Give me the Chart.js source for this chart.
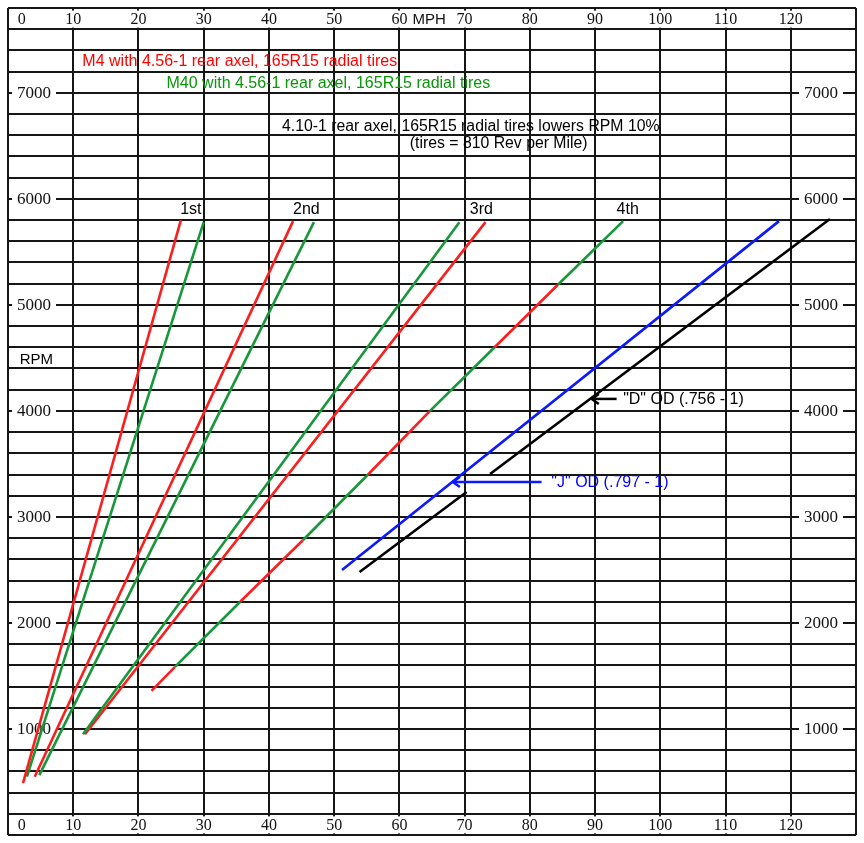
<!DOCTYPE html>
<html>
<head>
<meta charset="utf-8">
<script src="https://cdn.jsdelivr.net/npm/chart.js@4.4.1/dist/chart.umd.min.js"></script>
<style>
  html, body { margin: 0; padding: 0; background: #fff; }
  #wrap { width: 864px; height: 843px; }
</style>
</head>
<body>
<div id="wrap"><canvas id="rpmChart"></canvas></div>
<script>
// RPM vs MPH per gear
const mphTicks = [0, 10, 20, 30, 40, 50, 60, 70, 80, 90, 100, 110, 120];
const rpmTicks = [1000, 2000, 3000, 4000, 5000, 6000, 7000];

const m4FirstMph = [2.3, 26.5];
const m4FirstRpm = [490, 5800];
const m40FirstMph = [2.9, 30.0];
const m40FirstRpm = [550, 5780];
const m4SecondMph = [4.1, 43.7];
const m4SecondRpm = [550, 5790];
const m40SecondMph = [4.8, 46.9];
const m40SecondRpm = [565, 5780];
const m4ThirdMph = [11.8, 73.2];
const m4ThirdRpm = [950, 5780];
const m40ThirdMph = [11.5, 69.2];
const m40ThirdRpm = [950, 5780];
// 4th is the same line for M4 and M40, drawn red / green in turns
const fourthMph = [22.0, 25.6, 35.6, 45.2, 55.2, 64.7, 74.6, 84.3, 94.3];
const fourthRpm = [1360, 1585, 2200, 2780, 3400, 4000, 4600, 5190, 5790];
const jOdMph = [51.2, 118.2];
const jOdRpm = [2500, 5790];
// the D line has a break where the J arrow crosses it
const dOdMph = [53.9, 70.3, 72.0, 73.9, 126.0];
const dOdRpm = [2480, 3235, null, 3405, 5810];

const RED = '#fa1e1e';
const GREEN = '#17963a';
const BLUE = '#0c18ff';
const BLACK = '#000000';
const GRID = '#161616';

// text notes, positions in MPH / RPM
const notes = [
  { text: 'M4 with 4.56-1 rear axel, 165R15 radial tires', x: 11.4, y: 7290, color: '#ff0000', font: '16px "Liberation Sans", Arial, sans-serif' },
  { text: 'M40 with 4.56-1 rear axel, 165R15 radial tires', x: 24.3, y: 7091, color: '#0a960a', font: '16px "Liberation Sans", Arial, sans-serif' },
  { text: '4.10-1 rear axel, 165R15 radial tires lowers RPM 10%', x: 42.0, y: 6682, color: '#000', font: '15.8px "Liberation Sans", Arial, sans-serif' },
  { text: '(tires = 810 Rev per Mile)', x: 61.6, y: 6525, color: '#000', font: '15.8px "Liberation Sans", Arial, sans-serif' },
  { text: '1st', x: 26.4, y: 5896, color: '#000', font: '16px "Liberation Sans", Arial, sans-serif' },
  { text: '2nd', x: 43.7, y: 5896, color: '#000', font: '16px "Liberation Sans", Arial, sans-serif' },
  { text: '3rd', x: 70.8, y: 5896, color: '#000', font: '16px "Liberation Sans", Arial, sans-serif' },
  { text: '4th', x: 93.3, y: 5896, color: '#000', font: '16px "Liberation Sans", Arial, sans-serif' },
  { text: 'RPM', x: 1.8, y: 4481, color: '#000', font: '15px "Liberation Sans", Arial, sans-serif' },
  { text: '"D" OD (.756 - 1)', x: 94.3, y: 4104, color: '#000', font: '16px "Liberation Sans", Arial, sans-serif' },
  { text: '"J" OD (.797 - 1)', x: 83.3, y: 3321, color: '#0000ff', font: '16px "Liberation Sans", Arial, sans-serif' }
];
const arrows = [
  { from: [93.3, 4113], to: [89.5, 4113], color: BLACK },
  { from: [81.8, 3330], to: [68.2, 3330], color: BLUE }
];

const pts = (xs, ys) => xs.map((v, i) => ({ x: v, y: ys[i] }));

function gearLine(label, xs, ys, color) {
  return {
    label: label,
    data: pts(xs, ys),
    borderColor: color,
    borderWidth: 2.6,
    pointRadius: 0,
    fill: false,
    tension: 0
  };
}

const fourth = gearLine('4th', fourthMph, fourthRpm, RED);
fourth.segment = {
  borderColor: c => (c.p0DataIndex % 2 === 0 ? RED : GREEN)
};

// tick numbers sit inside the frame with a white patch over the grid
const tickLabels = {
  id: 'tickLabels',
  beforeDatasetsDraw(chart) {
    const { ctx, chartArea: area, scales: { x, y } } = chart;
    ctx.save();
    ctx.textAlign = 'center';
    ctx.textBaseline = 'middle';
    ctx.font = '16px "Liberation Serif", serif';
    const topMid = (y.getPixelForValue(7800) + y.getPixelForValue(7600)) / 2;
    const botMid = (y.getPixelForValue(0) + y.getPixelForValue(200)) / 2;
    mphTicks.forEach(v => {
      const px = v === 0 ? x.getPixelForValue(2.1) : x.getPixelForValue(v);
      const txt = String(v);
      const w = ctx.measureText(txt).width + 4;
      [topMid, botMid].forEach(py => {
        if (v !== 0) {
          ctx.fillStyle = '#fff';
          ctx.fillRect(px - w / 2, py - 8, w, 17);
        }
        ctx.fillStyle = '#111';
        ctx.fillText(txt, px, py + 1);
      });
    });
    ctx.font = '15px "Liberation Sans", Arial, sans-serif';
    ctx.textAlign = 'left';
    ctx.fillText('MPH', x.getPixelForValue(60) + 13, topMid + 1);

    ctx.font = '17px "Liberation Serif", serif';
    ctx.textAlign = 'center';
    rpmTicks.forEach(v => {
      const py = y.getPixelForValue(v);
      const txt = String(v);
      const w = ctx.measureText(txt).width + 10;
      [area.left + 26, area.right - 35].forEach(px => {
        ctx.fillStyle = '#fff';
        ctx.fillRect(px - w / 2, py - 5, w, 10);
        ctx.fillStyle = '#111';
        ctx.fillText(txt, px, py + 1);
      });
    });
    ctx.restore();
  }
};

const notesPlugin = {
  id: 'notes',
  afterDatasetsDraw(chart) {
    const { ctx, scales: { x, y } } = chart;
    ctx.save();
    ctx.textAlign = 'left';
    ctx.textBaseline = 'middle';
    notes.forEach(n => {
      ctx.font = n.font;
      ctx.fillStyle = n.color;
      ctx.fillText(n.text, x.getPixelForValue(n.x), y.getPixelForValue(n.y));
    });
    arrows.forEach(a => {
      const x0 = x.getPixelForValue(a.from[0]);
      const y0 = y.getPixelForValue(a.from[1]);
      const x1 = x.getPixelForValue(a.to[0]);
      const y1 = y.getPixelForValue(a.to[1]);
      ctx.strokeStyle = a.color;
      ctx.lineWidth = 2.5;
      ctx.beginPath();
      ctx.moveTo(x0, y0);
      ctx.lineTo(x1, y1);
      ctx.stroke();
      ctx.beginPath();
      ctx.moveTo(x1 + 7, y1 - 5);
      ctx.lineTo(x1, y1);
      ctx.lineTo(x1 + 7, y1 + 5);
      ctx.stroke();
    });
    ctx.restore();
  }
};

const ctx = document.getElementById('rpmChart').getContext('2d');

const data = {
  datasets: [
    gearLine('M4 1st', m4FirstMph, m4FirstRpm, RED),
    gearLine('M40 1st', m40FirstMph, m40FirstRpm, GREEN),
    gearLine('M4 2nd', m4SecondMph, m4SecondRpm, RED),
    gearLine('M40 2nd', m40SecondMph, m40SecondRpm, GREEN),
    gearLine('M40 3rd', m40ThirdMph, m40ThirdRpm, GREEN),
    gearLine('M4 3rd', m4ThirdMph, m4ThirdRpm, RED),
    fourth,
    gearLine('"J" OD', jOdMph, jOdRpm, BLUE),
    gearLine('"D" OD', dOdMph, dOdRpm, BLACK)
  ]
};

const config = {
  type: 'line',
  data: data,
  options: {
    responsive: true,
    maintainAspectRatio: false,
    animation: false,
    layout: { padding: { left: 8, right: 8, top: 8, bottom: 8 } },
    plugins: {
      legend: { display: false },
      tooltip: { enabled: false }
    },
    scales: {
      x: {
        type: 'linear',
        min: 0,
        max: 130,
        ticks: { display: false, stepSize: 10 },
        grid: { color: GRID, lineWidth: 2, drawTicks: false },
        border: { display: false }
      },
      y: {
        type: 'linear',
        min: 0,
        max: 7800,
        ticks: { display: false, stepSize: 200 },
        grid: { color: GRID, lineWidth: 2, drawTicks: false },
        border: { display: false }
      }
    }
  },
  plugins: [tickLabels, notesPlugin]
};

const rpmChart = new Chart(ctx, config);
</script>
</body>
</html>
